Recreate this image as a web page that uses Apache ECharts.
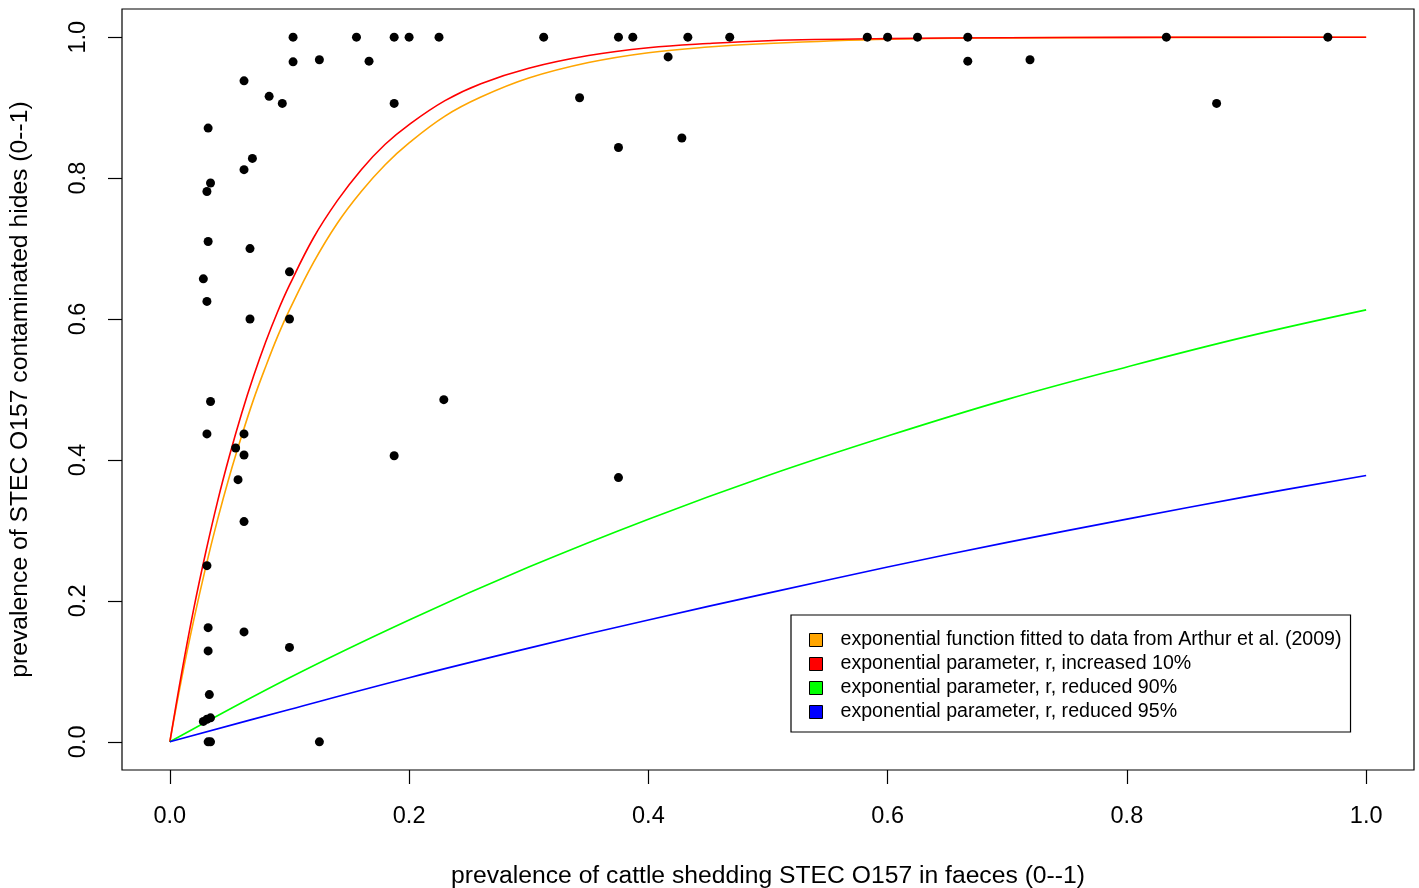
<!DOCTYPE html>
<html>
<head>
<meta charset="utf-8">
<script src="https://cdn.jsdelivr.net/npm/echarts@6/dist/echarts.min.js"></script>
<style>
html,body{margin:0;padding:0;background:#fff;overflow:hidden;}
#chart{width:1419px;height:888px;}
</style>
</head>
<body>
<div id="chart"></div>
<script>
// ---- data ----
const tickValues = [0, 0.2, 0.4, 0.6, 0.8, 1.0];

const pointsX = [0.103,0.103,0.125,0.062,0.083,0.094,0.032,0.069,0.062,0.034,0.031,0.032,0.067,0.100,0.028,0.031,0.067,0.100,
  0.034,0.031,0.062,0.055,0.062,0.057,0.062,0.031,0.032,0.062,0.100,0.032,0.033,0.034,0.031,0.028,0.032,0.034,0.125,
  0.156,0.1875,0.200,0.225,0.3125,0.375,0.387,0.433,0.468,0.1665,0.4165,0.1875,0.3425,0.428,0.375,
  0.583,0.600,0.625,0.667,0.667,0.719,0.833,0.875,0.968,
  0.229,0.1875,0.375];
const pointsY = [1.000,0.965,0.968,0.938,0.916,0.906,0.871,0.828,0.812,0.793,0.781,0.710,0.700,0.667,0.657,0.625,0.600,0.600,
  0.483,0.437,0.437,0.417,0.407,0.372,0.3125,0.250,0.162,0.156,0.134,0.129,0.067,0.034,0.032,0.029,0.000,0.000,0.000,
  1.000,1.000,1.000,1.000,1.000,1.000,1.000,1.000,1.000,0.966,0.972,0.906,0.914,0.857,0.8435,
  1.000,1.000,1.000,1.000,0.966,0.968,1.000,0.906,1.000,
  0.4856,0.406,0.375];

const steepX  = [0,0.01,0.02,0.03,0.04,0.05,0.06,0.07,0.08,0.09,0.10,0.12,0.14,0.16,0.18,0.20,0.23,0.26,0.30,0.35,0.40,0.45,0.50,0.60,0.70,0.80,0.90,1.00];
const orangeY = [0,0.091,0.173,0.248,0.316,0.378,0.434,0.486,0.532,0.575,0.613,0.680,0.736,0.781,0.819,0.850,0.888,0.915,0.942,0.964,0.978,0.986,0.991,0.997,0.999,0.9995,0.9998,1.0];
const redY    = [0,0.099,0.189,0.269,0.342,0.407,0.466,0.519,0.567,0.610,0.648,0.715,0.768,0.812,0.848,0.876,0.910,0.934,0.956,0.974,0.985,0.991,0.995,0.998,0.9993,0.9998,0.9999,1.0];

const flatX  = [0,0.1,0.2,0.3,0.4,0.5,0.6,0.7,0.8,0.9,1.0];
const greenY = [0,0.091,0.173,0.248,0.316,0.378,0.434,0.486,0.532,0.575,0.613];
const blueY  = [0,0.046,0.091,0.133,0.173,0.211,0.248,0.283,0.316,0.348,0.378];

const seriesNames = [
  'exponential function fitted to data from Arthur et al. (2009)',
  'exponential parameter, r, increased 10%',
  'exponential parameter, r, reduced 90%',
  'exponential parameter, r, reduced 95%'
];
const seriesColors = ['#FFA500', '#FF0000', '#00FF00', '#0000FF'];

// ---- chart ----
const zip = (xs, ys) => xs.map((x, i) => [x, ys[i]]);
const FONT = "'Liberation Sans', Arial, sans-serif";

const lineSeries = (name, color, data) => ({
  name, type: 'line', data, showSymbol: false, smooth: 0.4,
  lineStyle: {color, width: 1.6}, itemStyle: {color}, z: 2, silent: true, animation: false
});

const chart = echarts.init(document.getElementById('chart'), null, {renderer: 'canvas', width: 1419, height: 888});
chart.setOption({
  backgroundColor: '#ffffff',
  animation: false,
  textStyle: {fontFamily: FONT, color: '#000'},
  grid: {left: 122, top: 9, width: 1292, height: 761, outerBoundsMode: 'none', containLabel: false,
    show: true, borderColor: '#000', borderWidth: 1.2, backgroundColor: 'transparent'},
  xAxis: {
    type: 'value', min: -0.04, max: 1.04,
    name: 'prevalence of cattle shedding STEC O157 in faeces (0--1)',
    nameLocation: 'middle', nameGap: 94,
    nameTextStyle: {fontSize: 24.7, fontFamily: FONT, color: '#000'},
    axisLine: {show: false, onZero: false},
    splitLine: {show: false},
    axisTick: {show: true, inside: false, length: 14, customValues: tickValues, lineStyle: {color: '#000', width: 1.2}},
    axisLabel: {show: true, customValues: tickValues, margin: 35, fontSize: 23.5, fontFamily: FONT, color: '#000',
      formatter: v => v.toFixed(1)}
  },
  yAxis: {
    type: 'value', min: -0.04, max: 1.04,
    name: 'prevalence of STEC O157 contaminated hides (0--1)',
    nameLocation: 'middle', nameGap: 89, nameRotate: 90,
    nameTextStyle: {fontSize: 24.7, fontFamily: FONT, color: '#000'},
    axisLine: {show: false, onZero: false},
    splitLine: {show: false},
    axisTick: {show: true, inside: false, length: 14, customValues: tickValues, lineStyle: {color: '#000', width: 1.2}},
    axisLabel: {show: true, customValues: tickValues, margin: 31, rotate: 90, fontSize: 23.5, fontFamily: FONT, color: '#000',
      formatter: v => v.toFixed(1)}
  },
  legend: {
    show: true, orient: 'vertical', left: 791, top: 615,
    backgroundColor: '#fff', borderColor: '#000', borderWidth: 1.2,
    padding: [15, 9, 10, 18],
    icon: 'rect', itemWidth: 13, itemHeight: 13, itemGap: 4,
    selectedMode: false,
    textStyle: {fontSize: 19.6, fontFamily: FONT, color: '#000', lineHeight: 20, padding: [0, 0, 0, 13]},
    data: seriesNames.map((n, i) => ({name: n, itemStyle: {color: seriesColors[i], borderColor: '#000', borderWidth: 1}}))
  },
  series: [
    {
      name: 'observations', type: 'scatter', data: zip(pointsX, pointsY),
      symbol: 'circle', symbolSize: 9, itemStyle: {color: '#000', opacity: 1}, z: 3, silent: true
    },
    lineSeries(seriesNames[0], seriesColors[0], zip(steepX, orangeY)),
    lineSeries(seriesNames[1], seriesColors[1], zip(steepX, redY)),
    lineSeries(seriesNames[2], seriesColors[2], zip(flatX, greenY)),
    lineSeries(seriesNames[3], seriesColors[3], zip(flatX, blueY))
  ]
});
</script>
</body>
</html>
